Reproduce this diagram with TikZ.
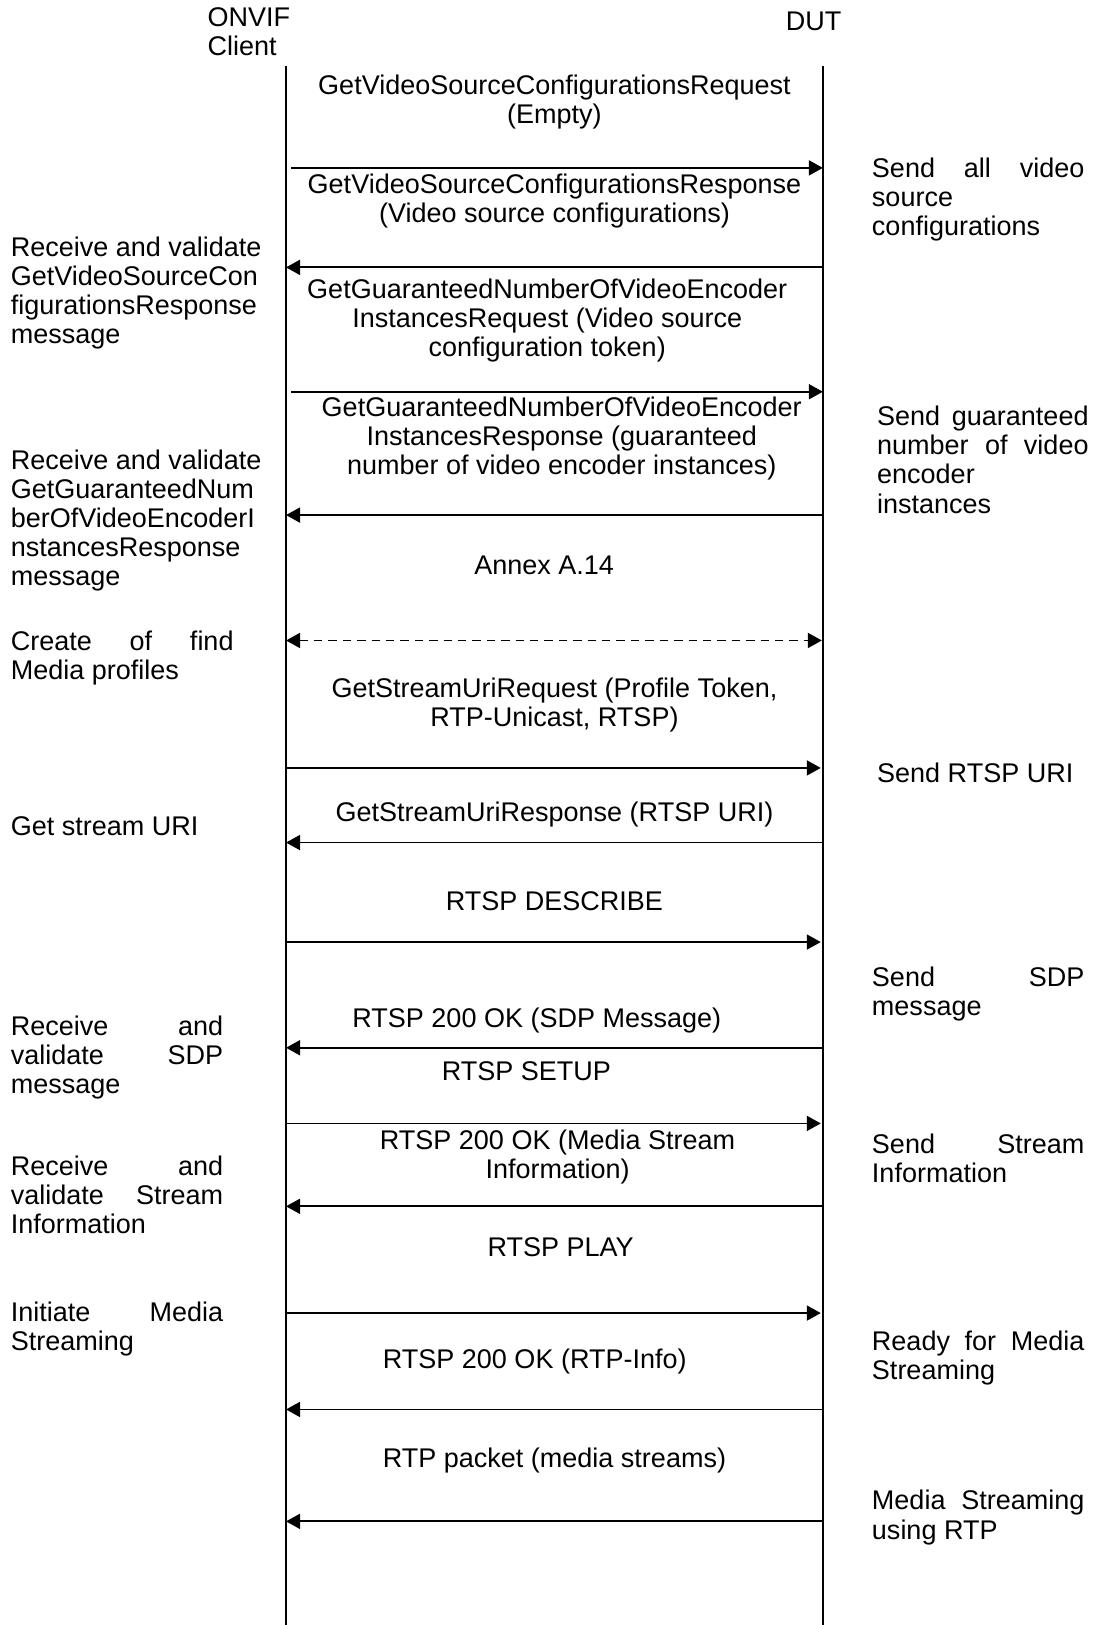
\documentclass[tikz,border=0pt]{standalone}
\usepackage{fontspec}
\setmainfont{Liberation Sans}
\usetikzlibrary{arrows.meta}
\newlength\pxu
\setlength\pxu{0.518pt}
\newcommand\jst[2]{\makebox[#1\pxu][s]{#2}}
\begin{document}
\begin{tikzpicture}[x=0.518pt,y=-0.518pt,
  every node/.style={inner sep=0pt, font=\fontsize{13.5pt}{14.5pt}\selectfont},
  msg/.style={line width=0.9pt, -{Triangle[length=7pt,width=7.5pt]}},
  dmsg/.style={line width=0.9pt, dash pattern=on 4.2pt off 3pt, {Triangle[length=7pt,width=7.5pt]}-{Triangle[length=7pt,width=7.5pt]}},
  lbl/.style={anchor=base, align=center},
  note/.style={anchor=base west, align=left},
  life/.style={line width=0.9pt}]
\path[fill=white,use as bounding box] (0,0) rectangle (1056,1568);

% headers (anchor base = baseline of last line)
\node[note] (client) at (200,54) {ONVIF\\Client};
\node[lbl] (dut) at (785,29) {DUT};

% lifelines
\coordinate (lt) at (276,64);
\coordinate (lb) at (276,1568);
\coordinate (rt) at (794,64);
\coordinate (rb) at (794,1568);
\draw[life] (lt) -- (lb);
\draw[life] (rt) -- (rb);

% message endpoints
\coordinate (a1) at (281,162);  \coordinate (b1) at (794,162);
\coordinate (a2) at (276,258);  \coordinate (b2) at (793,258);
\coordinate (a3) at (281,378);  \coordinate (b3) at (794,378);
\coordinate (a4) at (276,497);  \coordinate (b4) at (793,497);
\coordinate (a5) at (276,618);  \coordinate (b5) at (793,618);
\coordinate (a6) at (276,741);  \coordinate (b6) at (792,741);
\coordinate (a7) at (276,813);  \coordinate (b7) at (793,813);
\coordinate (a8) at (276,909);  \coordinate (b8) at (792,909);
\coordinate (a9) at (276,1011); \coordinate (b9) at (793,1011);
\coordinate (a10) at (276,1084); \coordinate (b10) at (792,1084);
\coordinate (a11) at (276,1164); \coordinate (b11) at (793,1164);
\coordinate (a12) at (276,1267); \coordinate (b12) at (792,1267);
\coordinate (a13) at (276,1360); \coordinate (b13) at (793,1360);
\coordinate (a14) at (276,1468); \coordinate (b14) at (793,1468);

\draw[msg] (a1) -- (b1);
\draw[msg] (b2) -- (a2);
\draw[msg] (a3) -- (b3);
\draw[msg] (b4) -- (a4);
\draw[dmsg] (a5) -- (b5);
\draw[msg] (a6) -- (b6);
\draw[msg] (b7) -- (a7);
\draw[msg] (a8) -- (b8);
\draw[msg] (b9) -- (a9);
\draw[msg] (a10) -- (b10);
\draw[msg] (b11) -- (a11);
\draw[msg] (a12) -- (b12);
\draw[msg] (b13) -- (a13);
\draw[msg] (b14) -- (a14);

% message labels
\node[lbl] (m1) at (535,119) {GetVideoSourceConfigurationsRequest\\(Empty)};
\node[lbl] (m2) at (535,215) {GetVideoSourceConfigurationsResponse\\(Video source configurations)};
\node[lbl] (m3) at (528,344) {GetGuaranteedNumberOfVideoEncoder\\InstancesRequest (Video source\\configuration token)};
\node[lbl] (m4) at (542,458) {GetGuaranteedNumberOfVideoEncoder\\InstancesResponse (guaranteed\\number of video encoder instances)};
\node[lbl] (m5) at (525,554) {Annex A.14};
\node[lbl] (m6) at (535,701) {GetStreamUriRequest (Profile Token,\\RTP-Unicast, RTSP)};
\node[lbl] (m7) at (535,793) {GetStreamUriResponse (RTSP URI)};
\node[lbl] (m8) at (535,879) {RTSP DESCRIBE};
\node[lbl] (m9) at (518,991) {RTSP 200 OK (SDP Message)};
\node[lbl] (m10) at (508,1043) {RTSP SETUP};
\node[lbl] (m11) at (538,1137) {RTSP 200 OK (Media Stream\\Information)};
\node[lbl] (m12) at (541,1212) {RTSP PLAY};
\node[lbl] (m13) at (516,1320) {RTSP 200 OK (RTP-Info)};
\node[lbl] (m14) at (535,1416) {RTP packet (media streams)};

% client notes
\node[note] (nA) at (10,331) {Receive and validate\\GetVideoSourceCon\\figurationsResponse\\message};
\node[note] (nB) at (10,565) {Receive and validate\\GetGuaranteedNum\\berOfVideoEncoderI\\nstancesResponse\\message};
\node[note] (nC) at (10,656) {\jst{215}{Create of find}\\Media profiles};
\node[note] (nD) at (10,806) {Get stream URI};
\node[note] (nE) at (10,1055) {\jst{205}{Receive and}\\\jst{205}{validate SDP}\\message};
\node[note] (nF) at (10,1190) {\jst{205}{Receive and}\\\jst{205}{validate Stream}\\Information};
\node[note] (nG) at (10,1303) {\jst{205}{Initiate Media}\\Streaming};

% DUT notes
\node[note] (nH) at (841,227) {\jst{205}{Send all video}\\source\\configurations};
\node[note] (nI) at (846,495) {\jst{204}{Send guaranteed}\\\jst{204}{number of video}\\encoder\\instances};
\node[note] (nJ) at (846,755) {Send RTSP URI};
\node[note] (nK) at (841,980) {\jst{205}{Send SDP}\\message};
\node[note] (nL) at (841,1141) {\jst{205}{Send Stream}\\Information};
\node[note] (nM) at (841,1331) {\jst{205}{Ready for Media}\\Streaming};
\node[note] (nN) at (841,1485) {\jst{205}{Media Streaming}\\using RTP};
\end{tikzpicture}
\end{document}
